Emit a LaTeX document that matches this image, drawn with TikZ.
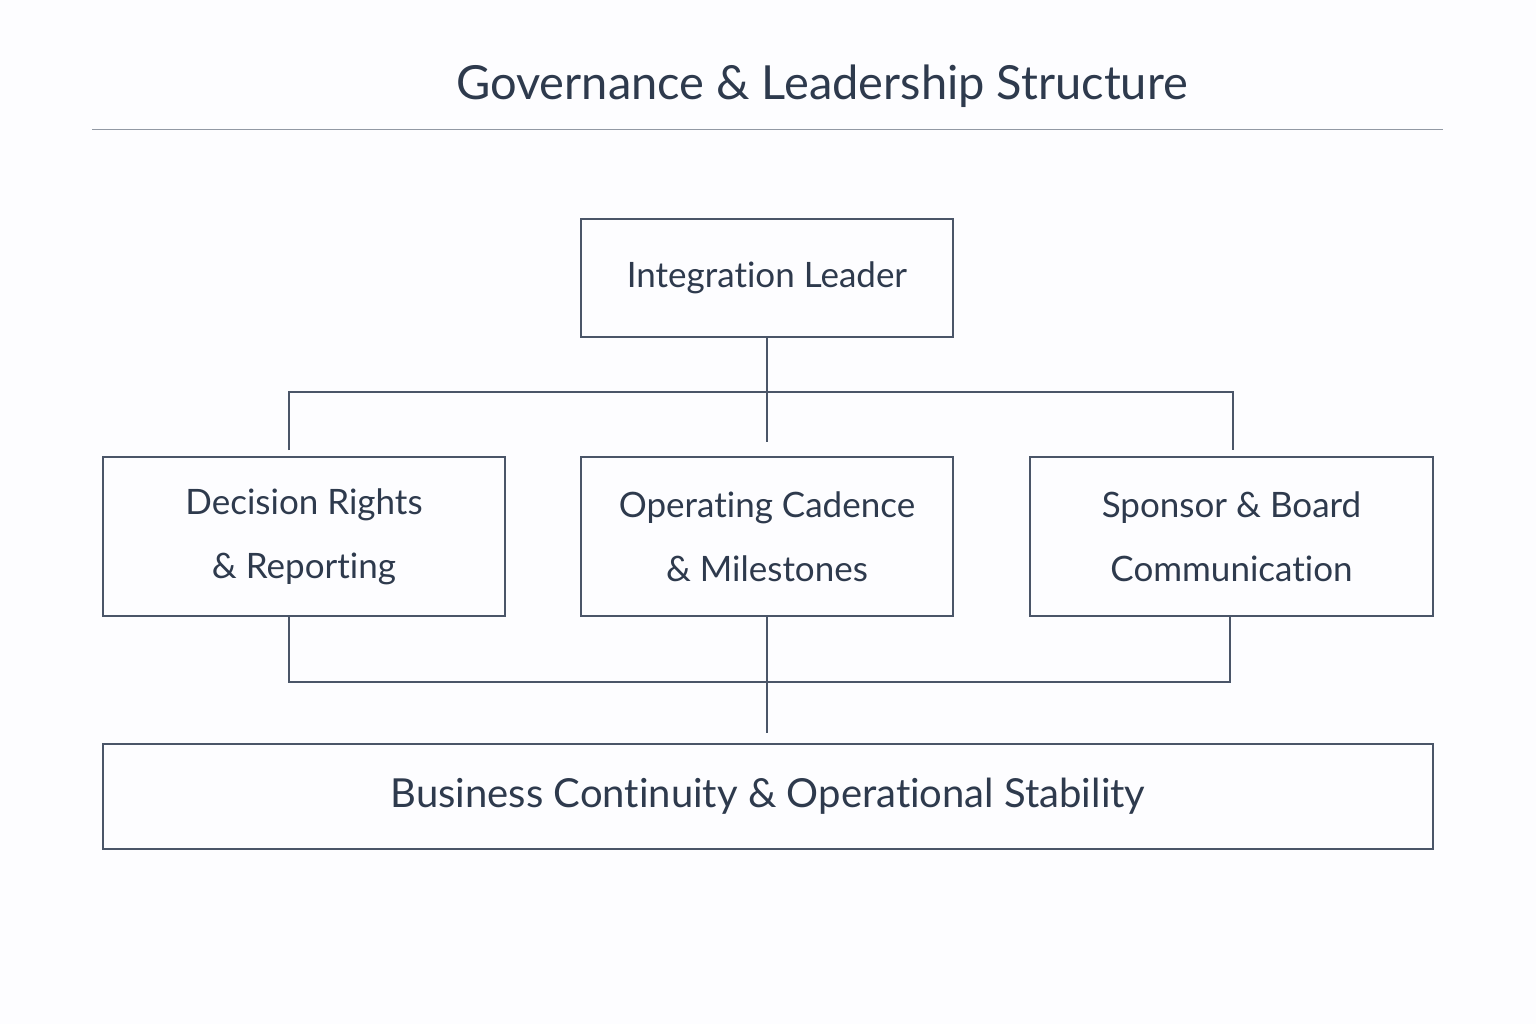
\documentclass[tikz,border=0pt]{standalone}
\usepackage{fontspec}
\setmainfont{Lato}[Ligatures={NoCommon,NoRare,NoContextual}]
\definecolor{ink}{HTML}{2E3A4D}
\definecolor{ln}{HTML}{4A5568}
\begin{document}
\begin{tikzpicture}[x=0.5pt,y=-0.5pt,
  box/.style={draw=ln,line width=0.55pt,inner sep=0pt,text=ink,font=\fontsize{17.5}{32}\selectfont,align=center},
  conn/.style={draw=ln,line width=0.55pt}]
\fill[white!98!blue!30!white] (0,0) rectangle (1536,1024);
\useasboundingbox (0,0) rectangle (1536,1024);
\node[text=ink,font=\fontsize{23.5}{28}\selectfont] (title) at (822,86) {Governance \& Leadership Structure};
\draw[draw=ln!60,line width=0.5pt] (92,129) coordinate (tl) -- (1443,129) coordinate (tr);
\node[box,minimum width=372pt*0.5,minimum height=118pt*0.5] (lead) at (767,278) {Integration Leader};
\node[box,minimum width=402pt*0.5,minimum height=159pt*0.5] (dec) at (304,536.5) {Decision Rights\\\& Reporting};
\node[box,minimum width=372pt*0.5,minimum height=159pt*0.5] (op) at (767,536.5) {Operating Cadence\\\& Milestones};
\node[box,minimum width=403pt*0.5,minimum height=159pt*0.5] (sp) at (1231.5,536.5) {Sponsor \& Board\\Communication};
\node[box,minimum width=1330pt*0.5,minimum height=105pt*0.5,font=\fontsize{20}{24}\selectfont] (bc) at (768,796.5) {Business Continuity \& Operational Stability};
\coordinate (c1) at (767,442);
\coordinate (l1) at (289,450);
\coordinate (r1) at (1233,450);
\coordinate (c2) at (767,733);
\draw[conn] (lead.south) -- (c1);
\draw[conn] (l1) |- (767,392) -| (r1);
\draw[conn] (dec.south -| l1) |- (1230,682) -- (sp.south -| 1230,0);
\draw[conn] (op.south) -- (c2);
\end{tikzpicture}
\end{document}
